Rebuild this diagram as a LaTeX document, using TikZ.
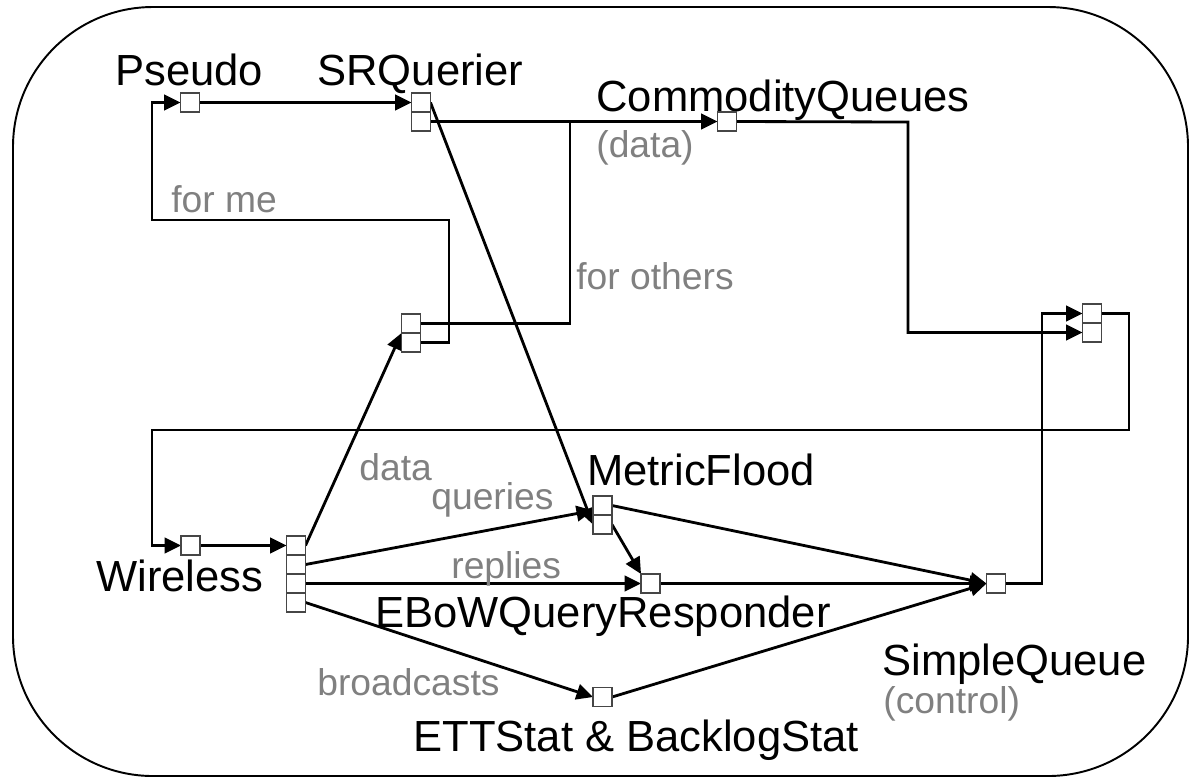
\documentclass[tikz,border=0pt]{standalone}
\usepackage{fontspec}
\setmainfont{Liberation Sans}
\usetikzlibrary{arrows.meta,backgrounds}
\definecolor{lbl}{RGB}{128,128,128}
\definecolor{portedge}{RGB}{70,70,70}
\tikzset{
  port/.style={draw=portedge, line width=0.6pt, fill=white, rectangle,
    minimum size=0.38cm, inner sep=0pt, outer sep=0pt},
  wire/.style={line width=1.6pt, black, line join=miter},
  feed/.style={wire, -{Triangle[length=0.33cm,width=0.31cm]}},
  elem/.style={anchor=base west, inner sep=0pt, font=\fontsize{24.8}{27}\selectfont},
  note/.style={anchor=base west, inner sep=0pt, text=lbl, font=\fontsize{21.2}{24}\selectfont}
}
\begin{document}
\begin{tikzpicture}[x=0.02cm, y=-0.02cm]
\useasboundingbox (0,0) rectangle (1192,779);
% frame
\draw[line width=1.1pt, rounded corners=2.8cm] (13,7) rectangle (1188,776);

% element names
\node[elem] (tPseudo) at (115,85) {Pseudo};
\node[elem] (tSRQ) at (317,85) {SRQuerier};
\node[elem] (tCQ) at (596,111) {CommodityQueues};
\node[elem] (tMF) at (587,485) {MetricFlood};
\node[elem] (tWireless) at (96,591) {Wireless};
\node[elem] (tEBoW) at (375,627) {EBoWQueryResponder};
\node[elem] (tSQ) at (882,675) {SimpleQueue};
\node[elem] (tETT) at (413,751) {ETTStat \& BacklogStat};

% path labels
\node[note] (lData1) at (596,157) {(data)};
\node[note] (lForMe) at (171,212) {for me};
\node[note] (lOthers) at (576,289) {for others};
\node[note] (lData2) at (359,480) {data};
\node[note] (lQueries) at (431,509) {queries};
\node[note] (lReplies) at (451,578) {replies};
\node[note] (lBcast) at (317,695) {broadcasts};
\node[note] (lControl) at (883,713) {(control)};

% bend points of the routed wires
\coordinate (forMeTop) at (152,220);
\coordinate (forMeDrop) at (449,220);
\coordinate (othersUp) at (570,122);
\coordinate (cqRight) at (908,122);
\coordinate (sqRight) at (1042,583.5);
\coordinate (loopRight) at (1129,313.5);
\coordinate (loopLow) at (1129,430);
\coordinate (loopLeft) at (152,430);

% ports
\node[port] (pseudo) at (190,102.5) {};
\node[port] (srq1) at (421,102.5) {};
\node[port] (srq2) at (421,121.5) {};
\node[port] (cq) at (727,121.5) {};
\node[port] (cls1) at (411,323.5) {};
\node[port] (cls2) at (411,342.5) {};
\node[port] (rq1) at (1092,313.5) {};
\node[port] (rq2) at (1092,332.5) {};
\node[port] (wport) at (190.5,545.5) {};
\node[port] (wc1) at (296,545.5) {};
\node[port] (wc2) at (296,564.5) {};
\node[port] (wc3) at (296,583.5) {};
\node[port] (wc4) at (296,602.5) {};
\node[port] (mf1) at (602.5,505.5) {};
\node[port] (mf2) at (602.5,524.5) {};
\node[port] (ebow) at (650.5,583.5) {};
\node[port] (sq) at (996,583.5) {};
\node[port] (ett) at (602.5,697) {};

% wires sit under the port boxes
\begin{scope}[on background layer]
\draw[feed] (pseudo.east) -- (srq1.west);
\draw[feed] (srq2.east) -- (cq.west);
\draw[feed] (srq1.east) -- (mf2.west);
\draw[wire] (cls1.east) -| (othersUp);
\draw[feed] (cls2.east) -| (forMeDrop) -- (forMeTop) |- (pseudo.west);
\draw[feed] (cq.east) -- (cqRight) |- (rq2.west);
\draw[feed] (sq.east) -- (sqRight) |- (rq1.west);
\draw[feed] (rq1.east) -- (loopRight) -- (loopLow) -- (loopLeft) |- (wport.west);
\draw[feed] (wport.east) -- (wc1.west);
\draw[feed] (wc1.east) -- (cls1.south west);
\draw[feed] (wc2.east) -- ([yshift=-0.1cm]mf1.west);
\draw[feed] (wc3.east) -- (ebow.west);
\draw[feed] (wc4.east) -- (ett.west);
\draw[feed] (mf1.east) -- (sq.west);
\draw[feed] (mf2.east) -- (ebow.north west);
\draw[feed] (ebow.east) -- (sq.west);
\draw[feed] (ett.east) -- (sq.west);
\end{scope}
\end{tikzpicture}
\end{document}
